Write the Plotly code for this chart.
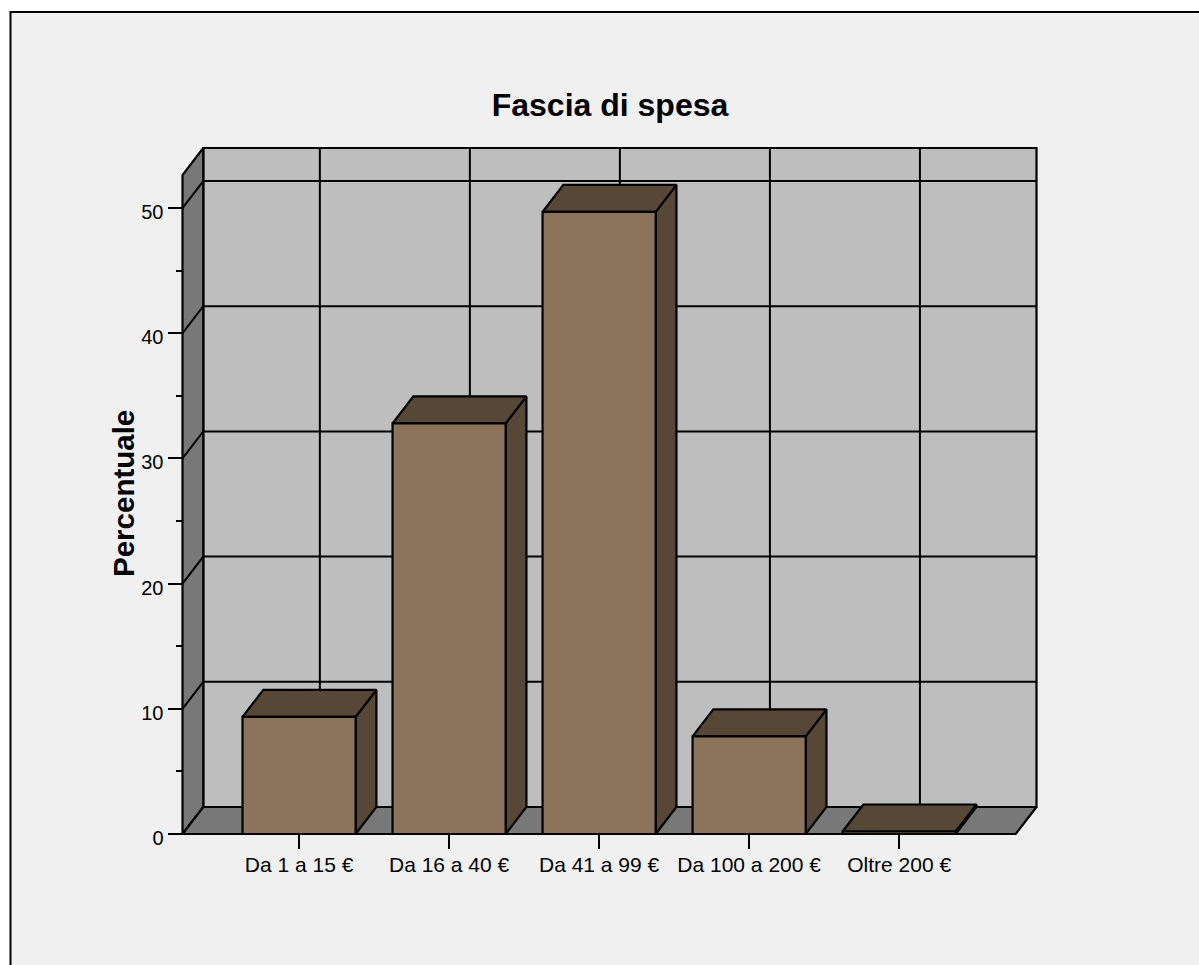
import plotly.graph_objects as go

categories = ["Da 1 a 15 €", "Da 16 a 40 €", "Da 41 a 99 €", "Da 100 a 200 €", "Oltre 200 €"]
percent = [9.35, 32.8, 49.7, 7.8, 0.2]
major_ticks = [0, 10, 20, 30, 40, 50]
minor_ticks = [5, 15, 25, 35, 45]

FRONT, DARK, WALL, SIDE, BG = "#8C735C", "#574737", "#BEBEBE", "#787878", "#F0F0F0"
DX, DY = 0.1385, 2.156   # depth of the fake 3D box, in data units
HALF = 0.377             # half bar width
XL, XR = -0.777, 4.777   # front floor edge
YTOP = 52.64             # front height of the box
LW = 2.2
PAD_X, PAD_Y = 0.03, 0.32

fig = go.Figure()


def poly(xs, ys, fill=None, width=LW):
    fig.add_trace(go.Scatter(
        x=xs, y=ys, mode="lines", hoverinfo="skip", showlegend=False, cliponaxis=False,
        fill="toself" if fill else None, fillcolor=fill,
        line=dict(color="black", width=width),
    ))


# walls and floor
poly([XL + DX, XR + DX, XR + DX, XL + DX, XL + DX], [DY, DY, YTOP + DY, YTOP + DY, DY], WALL)
poly([XL, XL + DX, XL + DX, XL, XL], [0, DY, YTOP + DY, YTOP, 0], SIDE)
poly([XL, XR, XR + DX, XL + DX, XL], [0, 0, DY, DY, 0], SIDE)

# grid on the back wall and the side wall
for v in major_ticks[1:]:
    poly([XL, XL + DX, XR + DX], [v, v + DY, v + DY], width=2)
for i in range(len(categories)):
    poly([i + DX, i + DX], [DY, YTOP + DY], width=2)

# bars
for i, v in enumerate(percent):
    l, r = i - HALF, i + HALF
    poly([r, r + DX, r + DX, r, r], [0, DY, v + DY, v, 0], DARK)
    poly([l, r, r + DX, l + DX, l], [v, v, v + DY, v + DY, v], DARK)
    poly([l, r, r, l, l], [0, 0, v, v, 0], FRONT)

L, B = 178, 127
PW, PH = 862.95, 694
x_range = [XL - PAD_X, XR + DX + PAD_X]
y_range = [-PAD_Y, YTOP + DY + PAD_Y]

fig.update_layout(
    width=1199, height=965, autosize=False,
    margin=dict(l=L, r=1199 - L - PW, t=965 - B - PH, b=B, pad=0),
    paper_bgcolor="white", plot_bgcolor="rgba(0,0,0,0)",
    font=dict(family="Liberation Sans, Arial, sans-serif", color="black"),
    title=dict(text="<b>Fascia di spesa</b>", x=610 / 1199, xanchor="center",
               y=1 - 105 / 965, yanchor="middle", font=dict(size=32)),
    xaxis=dict(range=x_range, tickmode="array", tickvals=list(range(len(categories))),
               ticktext=categories, ticks="outside", ticklen=14, tickwidth=2, tickcolor="black",
               showgrid=False, zeroline=False, showline=False, tickangle=0, tickfont=dict(size=21),
               anchor="free", position=PAD_Y / (y_range[1] - y_range[0]), ticklabelstandoff=-2),
    yaxis=dict(range=y_range, tickmode="array", tickvals=major_ticks,
               ticks="outside", ticklen=15, tickwidth=2, tickcolor="black",
               showgrid=False, zeroline=False, showline=False, tickfont=dict(size=20),
               anchor="free", position=PAD_X / (x_range[1] - x_range[0]), ticklabelshift=4,
               minor=dict(tickmode="array", tickvals=minor_ticks, ticks="outside",
                          ticklen=7, tickwidth=2, tickcolor="black", showgrid=False)),
    annotations=[dict(text="<b>Percentuale</b>", textangle=-90, showarrow=False,
                      xref="paper", yref="paper", xanchor="center", yanchor="middle",
                      x=(123.5 - L) / PW, y=(965 - B - 493.5) / PH, font=dict(size=29.5))],
    shapes=[dict(type="rect", xref="paper", yref="paper", layer="below",
                 x0=(10.5 - L) / PW, x1=(1300 - L) / PW,
                 y0=(965 - B - 1100) / PH, y1=(965 - B - 12) / PH,
                 fillcolor=BG, line=dict(color="black", width=2))],
)

fig.write_html("out.html", config=dict(displayModeBar=False),
               post_script="document.body.style.margin='0';document.body.style.overflow='hidden';")
